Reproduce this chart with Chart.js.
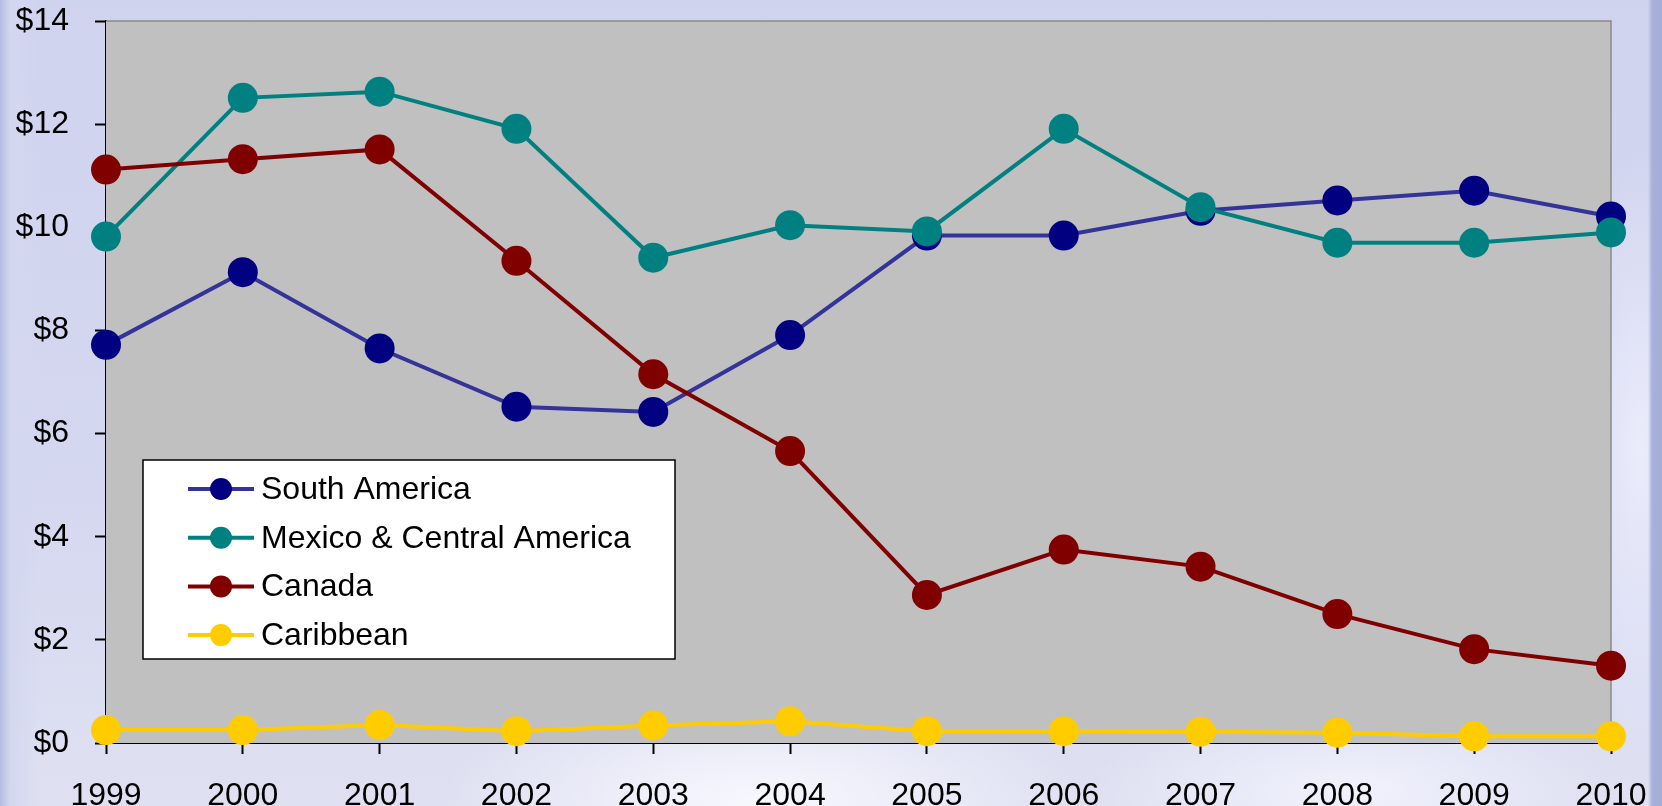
<!DOCTYPE html>
<html>
<head>
<meta charset="utf-8">
<script src="https://cdn.jsdelivr.net/npm/chart.js@4"></script>
<style>
    html, body { margin: 0; padding: 0; }
    body {
        width: 1662px;
        height: 806px;
        overflow: hidden;
        background:
            linear-gradient(90deg, #b4bde2 0px, #d3d7ef 10px, rgba(211,215,239,0) 40px),
            linear-gradient(270deg, #a4acd8 0px, #a9b1da 10px, rgba(200,205,235,0) 14px),
            radial-gradient(ellipse 320px 120px at 760px 800px, rgba(250,250,255,0.9), rgba(250,250,255,0)),
            radial-gradient(ellipse 260px 90px at 1350px 790px, rgba(245,246,255,0.8), rgba(245,246,255,0)),
            radial-gradient(ellipse 80px 300px at 1640px 450px, rgba(240,242,255,0.8), rgba(240,242,255,0)),
            linear-gradient(180deg, #d0d3ee 0%, #d4d7ef 60%, #dfe1f2 100%);
    }
    #wrap { position: absolute; left: 0; top: 0; width: 1662px; height: 806px; }
</style>
</head>
<body>
<div id="wrap"><canvas id="chart"></canvas></div>
<script>
const years = ['1999', '2000', '2001', '2002', '2003', '2004', '2005', '2006', '2007', '2008', '2009', '2010'];
const southAmerica = [7.72, 9.13, 7.65, 6.52, 6.42, 7.91, 9.84, 9.84, 10.32, 10.52, 10.71, 10.21];
const mexicoCentral = [9.82, 12.51, 12.63, 11.91, 9.41, 10.04, 9.92, 11.91, 10.39, 9.70, 9.70, 9.90];
const canada = [11.12, 11.32, 11.51, 9.35, 7.15, 5.66, 2.87, 3.75, 3.42, 2.50, 1.82, 1.50];
const caribbean = [0.25, 0.25, 0.35, 0.23, 0.34, 0.42, 0.23, 0.23, 0.22, 0.20, 0.13, 0.13];
const yTicks = [0, 2, 4, 6, 8, 10, 12, 14];

const FONT = 'Liberation Sans, Arial, sans-serif';

// Plot background and the thin grey frame on top/right
const plotFrame = {
    id: 'plotFrame',
    beforeDatasetsDraw(chart) {
        const { ctx, chartArea: a } = chart;
        ctx.save();
        ctx.fillStyle = '#c0c0c0';
        ctx.fillRect(a.left, a.top, a.right - a.left, a.bottom - a.top);
        ctx.strokeStyle = '#8a8a8a';
        ctx.lineWidth = 1.5;
        ctx.beginPath();
        ctx.moveTo(a.left, a.top);
        ctx.lineTo(a.right, a.top);
        ctx.lineTo(a.right, a.bottom);
        ctx.stroke();
        ctx.restore();
    }
};

// Boxed legend sitting inside the plot, lower left
const boxLegend = {
    id: 'boxLegend',
    afterDatasetsDraw(chart) {
        const { ctx } = chart;
        const x = 143, y = 460, w = 532, h = 199;
        ctx.save();
        ctx.fillStyle = '#ffffff';
        ctx.fillRect(x, y, w, h);
        ctx.strokeStyle = '#000000';
        ctx.lineWidth = 1.5;
        ctx.strokeRect(x, y, w, h);
        ctx.font = '32px ' + FONT;
        ctx.textBaseline = 'middle';
        // datasets are stored bottom-to-top, legend lists them top-to-bottom
        const list = chart.data.datasets.slice().reverse();
        list.forEach((ds, i) => {
            const cy = 489 + i * 48.7;
            ctx.strokeStyle = ds.borderColor;
            ctx.lineWidth = 4;
            ctx.beginPath();
            ctx.moveTo(188, cy);
            ctx.lineTo(254, cy);
            ctx.stroke();
            ctx.fillStyle = ds.pointBackgroundColor;
            ctx.beginPath();
            ctx.arc(221, cy, 11, 0, Math.PI * 2);
            ctx.fill();
            ctx.fillStyle = '#000000';
            ctx.fillText(ds.label, 261, cy + 1);
        });
        ctx.restore();
    }
};

function series(label, data, line, dot) {
    return {
        label: label,
        data: data,
        borderColor: line,
        backgroundColor: dot,
        pointBackgroundColor: dot,
        pointBorderWidth: 0,
        pointRadius: 15,
        borderWidth: 4,
        tension: 0,
        clip: false
    };
}

new Chart(document.getElementById('chart'), {
    type: 'line',
    data: {
        labels: years,
        // reversed so Caribbean is drawn last (on top), as in the original
        datasets: [
            series('South America', southAmerica, '#333399', '#000080'),
            series('Mexico & Central America', mexicoCentral, '#008080', '#008080'),
            series('Canada', canada, '#800000', '#800000'),
            series('Caribbean', caribbean, '#ffcc00', '#ffcc00')
        ].reverse()
    },
    options: {
        responsive: true,
        maintainAspectRatio: false,
        animation: false,
        layout: { padding: { top: 21, right: 51, left: 0, bottom: 0 } },
        plugins: {
            legend: { display: false },
            tooltip: { enabled: false }
        },
        scales: {
            x: {
                offset: false,
                afterFit(scale) {
                    scale.height = 63;
                    scale.paddingLeft = 0;
                    scale.paddingRight = 0;
                },
                grid: { drawOnChartArea: false, drawTicks: true, tickLength: 11, tickColor: '#000', tickWidth: 2 },
                border: { color: '#000', width: 2 },
                ticks: { color: '#000', padding: 23, maxRotation: 0, autoSkip: false, font: { family: FONT, size: 32 } }
            },
            y: {
                min: 0,
                max: 14,
                afterFit(scale) {
                    scale.width = 106;
                    scale.paddingTop = 0;
                    scale.paddingBottom = 0;
                },
                afterBuildTicks(scale) { scale.ticks = yTicks.map(v => ({ value: v })); },
                grid: { drawOnChartArea: false, drawTicks: true, tickLength: 11, tickColor: '#000', tickWidth: 2 },
                border: { color: '#000', width: 2 },
                ticks: {
                    color: '#000',
                    padding: 26,
                    font: { family: FONT, size: 32 },
                    callback: v => '$' + v
                }
            }
        }
    },
    plugins: [plotFrame, boxLegend]
});
</script>
</body>
</html>
